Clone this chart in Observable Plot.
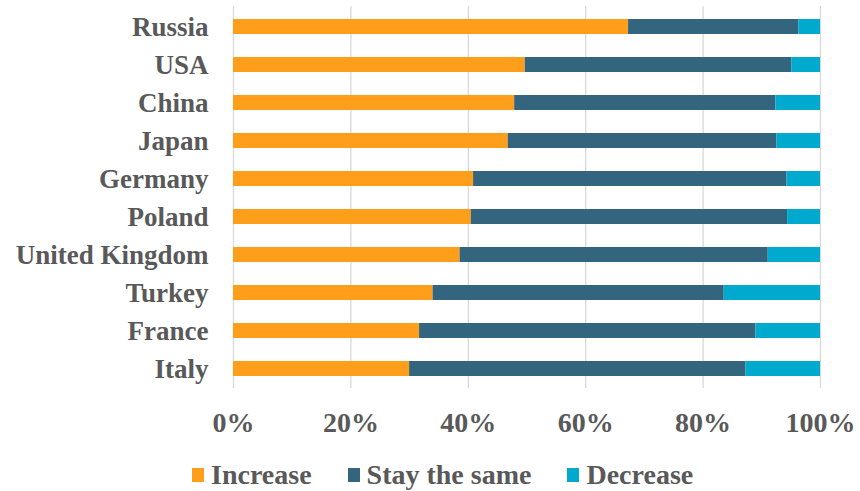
<!DOCTYPE html>
<html>
<head>
<meta charset="utf-8">
<script src="https://cdn.jsdelivr.net/npm/d3@7"></script>
<script src="https://cdn.jsdelivr.net/npm/@observablehq/plot@0.6"></script>
<style>
  html, body { margin: 0; padding: 0; background: #fff; }
  #chart { width: 860px; }
  .legend { display: flex; margin-left: 192px; margin-top: 10px; font-family: "Liberation Serif", serif; font-weight: bold; font-size: 28px; color: #595959; line-height: 30px; }
  .legend .item { display: flex; align-items: center; margin-right: 36px; }
  .legend .sw { width: 12px; height: 14px; margin-right: 7px; display: inline-block; }
</style>
</head>
<body>
<div id="chart"></div>
<script>
const countries = ["Russia","USA","China","Japan","Germany","Poland","United Kingdom","Turkey","France","Italy"];
const increase = [67.3, 49.7, 47.9, 46.8, 40.9, 40.5, 38.6, 34.0, 31.7, 30.0];
const staySame = [29.0, 45.4, 44.5, 45.8, 53.4, 53.9, 52.5, 49.6, 57.3, 57.3];
const decrease = [3.7, 4.9, 7.6, 7.4, 5.7, 5.6, 8.9, 16.4, 11.0, 12.7];
const seriesNames = ["Increase","Stay the same","Decrease"];
const seriesColors = ["#FF9E1B","#34657F","#00A9CE"];
const xTicks = [0, 20, 40, 60, 80, 100];

const rows = [];
countries.forEach((c, i) => {
  rows.push({country: c, series: seriesNames[0], value: increase[i]});
  rows.push({country: c, series: seriesNames[1], value: staySame[i]});
  rows.push({country: c, series: seriesNames[2], value: decrease[i]});
});

const plot = Plot.plot({
  width: 860,
  height: 450,
  marginLeft: 233,
  marginRight: 40,
  marginTop: 6,
  marginBottom: 62,
  style: {fontFamily: "Liberation Serif, serif", fontWeight: "bold", color: "#595959", background: "#fff"},
  x: {domain: [0, 100], ticks: xTicks, tickFormat: d => d + "%", label: null},
  y: {domain: countries, paddingInner: 0.61, paddingOuter: 0.305, label: null},
  color: {domain: seriesNames, range: seriesColors},
  marks: [
    Plot.ruleX(xTicks, {stroke: "#d9d9d9", strokeWidth: 1.3}),
    Plot.barX(rows, Plot.stackX({x: "value", y: "country", fill: "series", order: seriesNames})),
    Plot.axisX({ticks: xTicks, tickFormat: d => d + "%", tickSize: 0, tickPadding: 24, fontSize: 28, label: null, fill: "#595959"}),
    Plot.axisY({tickSize: 0, tickPadding: 25, fontSize: 27, label: null, fill: "#595959"})
  ]
});
document.getElementById("chart").appendChild(plot);

const legend = document.createElement("div");
legend.className = "legend";
seriesNames.forEach((s, i) => {
  const item = document.createElement("div");
  item.className = "item";
  const sw = document.createElement("span");
  sw.className = "sw";
  sw.style.background = seriesColors[i];
  const t = document.createElement("span");
  t.textContent = s;
  item.appendChild(sw); item.appendChild(t);
  legend.appendChild(item);
});
document.getElementById("chart").appendChild(legend);
</script>
</body>
</html>
